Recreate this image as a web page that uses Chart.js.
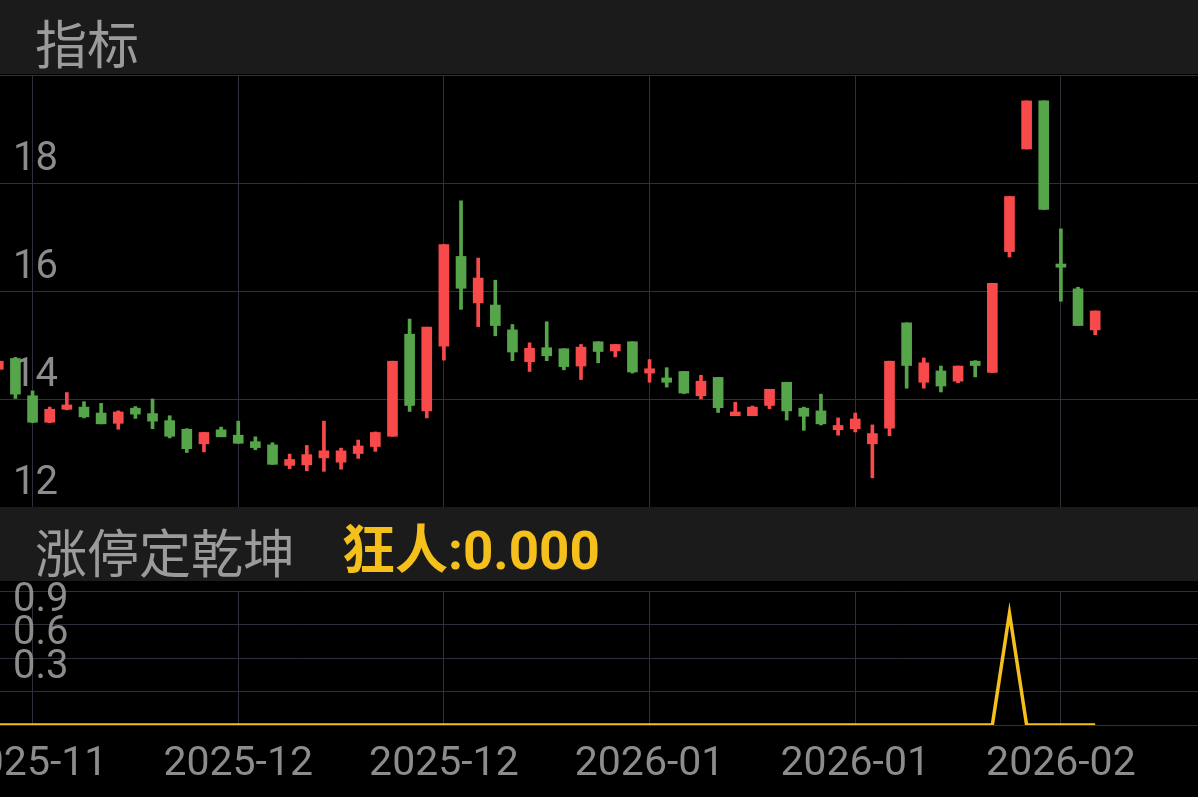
<!DOCTYPE html>
<html>
<head>
<meta charset="utf-8">
<script src="https://cdn.jsdelivr.net/npm/chart.js@4/dist/chart.umd.min.js"></script>
<style>
  html, body { margin: 0; padding: 0; background: #000; }
  body { width: 1198px; height: 797px; position: relative; overflow: hidden; }
  .band { position: absolute; left: 0; width: 1198px; height: 74px; background: #1b1b1b; z-index: 2; }
  .band span { position: absolute; font-size: 52px; line-height: 52px; white-space: nowrap; }
  .title { color: #9b9b9b; font-family: "Noto Sans CJK SC", sans-serif; }
  .value { color: #f5c01b; font-weight: bold; font-family: Roboto, "Noto Sans CJK SC", sans-serif; }
  canvas { position: absolute; left: 0; }
</style>
</head>
<body>
<div class="band" style="top:0"><span class="title" style="left:35px;top:16px">指标</span></div>
<canvas id="kline" width="1198" height="434" style="top:74px"></canvas>
<div class="band" style="top:507px"><span class="title" style="left:35px;top:18px">涨停定乾坤</span><span class="value" style="left:342px;top:18px;font-size:53px">狂人:0.000</span></div>
<canvas id="signal" width="1198" height="216" style="top:581px"></canvas>
<script>
// ---- data ----
var openP  = [14.55,14.75,14.06,13.57,13.81,13.85,13.74,13.55,13.83,13.73,13.60,13.44,13.17,13.43,13.33,13.21,13.15,12.77,12.78,12.91,12.83,12.99,13.12,13.31,15.20,13.78,14.98,16.64,15.78,15.74,15.28,14.69,14.95,14.93,14.61,15.06,14.89,15.06,14.48,14.39,14.51,14.06,14.40,13.69,13.69,13.88,14.31,13.83,13.78,13.43,13.45,13.17,13.46,15.41,14.31,14.52,14.33,14.70,14.49,16.73,18.63,19.52,16.50,16.04,15.28];
var highP  = [14.72,14.77,14.15,13.85,14.12,13.95,13.92,13.78,13.86,14.00,13.69,13.45,13.38,13.48,13.59,13.30,13.19,12.98,13.14,13.59,13.09,13.24,13.39,14.70,15.48,15.33,16.86,17.67,16.61,16.20,15.38,15.04,15.43,14.93,15.01,15.06,15.01,15.06,14.73,14.58,14.51,14.44,14.40,13.94,13.87,14.18,14.31,13.85,14.09,13.65,13.74,13.52,14.70,15.41,14.76,14.61,14.61,14.71,16.14,17.75,19.52,19.52,17.15,16.07,15.63];
var lowP   = [14.53,14.01,13.56,13.56,13.80,13.65,13.54,13.44,13.64,13.45,13.28,13.01,13.02,13.30,13.18,13.06,12.79,12.71,12.67,12.66,12.70,12.90,13.03,13.31,13.77,13.65,14.72,15.66,15.34,15.17,14.71,14.51,14.71,14.54,14.36,14.67,14.78,14.48,14.31,14.22,14.10,14.00,13.75,13.69,13.69,13.82,13.61,13.42,13.52,13.33,13.39,12.54,13.32,14.20,14.20,14.13,14.30,14.41,14.49,16.63,18.63,17.51,15.81,15.36,15.19];
var closeP = [14.70,14.09,13.57,13.81,13.89,13.67,13.54,13.76,13.72,13.59,13.31,13.08,13.38,13.30,13.18,13.10,12.79,12.88,12.97,13.04,13.04,13.13,13.38,14.70,13.88,15.33,16.86,16.05,16.24,15.36,14.87,14.94,14.80,14.60,14.96,14.88,15.01,14.50,14.56,14.31,14.11,14.33,13.84,13.76,13.85,14.18,13.78,13.68,13.54,13.51,13.63,13.36,14.70,14.62,14.67,14.24,14.61,14.62,16.14,17.75,19.52,17.51,16.44,15.36,15.63];
// 涨停定乾坤 signal line
var signal = [0,0,0,0,0,0,0,0,0,0,0,0,0,0,0,0,0,0,0,0,0,0,0,0,0,0,0,0,0,0,0,0,0,0,0,0,0,0,0,0,0,0,0,0,0,0,0,0,0,0,0,0,0,0,0,0,0,0,0,1,0,0,0,0,0];
// axis ticks
var xTickIdx = [2, 14, 26, 38, 50, 62];
var xTickLabels = ['2025-11', '2025-12', '2025-12', '2026-01', '2026-01', '2026-02'];
var priceTicks = [12, 14, 16, 18, 20];
var signalTicks = [0, 0.3, 0.6, 0.9, 1.2];

const RED = '#f84a4a';
const GREEN = '#56a54b';
const GRID = '#30303a';
const LABEL = '#8c8c8c';
const X_MIN = 0.1, X_MAX = 70;

var colors = openP.map((o, i) => closeP[i] >= o ? RED : GREEN);
var wicks = lowP.map((l, i) => ({x: i, y: [l, highP[i]]}));
var bodies = openP.map((o, i) => ({x: i, y: [o, closeP[i]]}));

function setTicks(values) {
  return function(scale) { scale.ticks = values.map(v => ({value: v})); };
}
// axes take no room: labels sit inside the plot
function noRoom(w, h) {
  return function(s) {
    if (w !== null) s.width = w;
    if (h !== null) s.height = h;
    s.paddingTop = 0; s.paddingBottom = 0; s.paddingLeft = 0; s.paddingRight = 0;
  };
}

Chart.defaults.font.family = 'Roboto, "Noto Sans CJK SC", sans-serif';
Chart.defaults.animation = false;

new Chart(document.getElementById('kline'), {
  type: 'bar',
  data: {
    datasets: [
      { data: wicks, backgroundColor: colors, barThickness: 3, grouped: false, minBarLength: 1 },
      { data: bodies, backgroundColor: colors, barThickness: 10, grouped: false, minBarLength: 2 }
    ]
  },
  options: {
    responsive: false,
    layout: { padding: { top: 1, bottom: 1, left: 0, right: 0 } },
    plugins: { legend: { display: false }, tooltip: { enabled: false } },
    scales: {
      x: {
        type: 'linear', min: X_MIN, max: X_MAX, offset: false,
        afterBuildTicks: setTicks(xTickIdx),
        afterFit: noRoom(null, 0),
        ticks: { display: false },
        grid: { color: GRID, drawTicks: false, offset: false },
        border: { display: false }
      },
      y: {
        min: 12, max: 20,
        afterBuildTicks: setTicks(priceTicks),
        afterFit: noRoom(0, null),
        ticks: {
          mirror: true, padding: 13, labelOffset: -23, color: LABEL,
          font: { size: 40 }, autoSkip: false,
          callback: v => v === 20 ? '' : String(v)
        },
        grid: { color: GRID, drawTicks: false },
        border: { display: false }
      }
    }
  }
});

new Chart(document.getElementById('signal'), {
  type: 'line',
  data: {
    datasets: [{
      data: signal.map((v, i) => ({x: i, y: v})),
      borderColor: '#f5c01b', borderWidth: 3.5, pointRadius: 0, tension: 0
    }]
  },
  options: {
    responsive: false,
    layout: { padding: { top: 10, bottom: 0, left: 0, right: 0 } },
    plugins: { legend: { display: false }, tooltip: { enabled: false } },
    scales: {
      x: {
        type: 'linear', min: X_MIN, max: X_MAX,
        afterBuildTicks: setTicks(xTickIdx),
        afterFit: noRoom(null, 72),
        ticks: {
          color: LABEL, font: { size: 41 }, padding: 15,
          maxRotation: 0, autoSkip: false,
          callback: (v, i) => xTickLabels[i]
        },
        grid: { color: GRID, drawTicks: false },
        border: { display: false }
      },
      y: {
        min: 0, max: 1.2,
        afterBuildTicks: setTicks(signalTicks),
        afterFit: noRoom(0, null),
        ticks: {
          mirror: true, padding: 13, labelOffset: -24, color: LABEL,
          font: { size: 40 }, autoSkip: false,
          callback: v => (v === 0 || v === 1.2) ? '' : v.toFixed(1)
        },
        grid: { color: GRID, drawTicks: false },
        border: { display: false }
      }
    }
  }
});
</script>
</body>
</html>
